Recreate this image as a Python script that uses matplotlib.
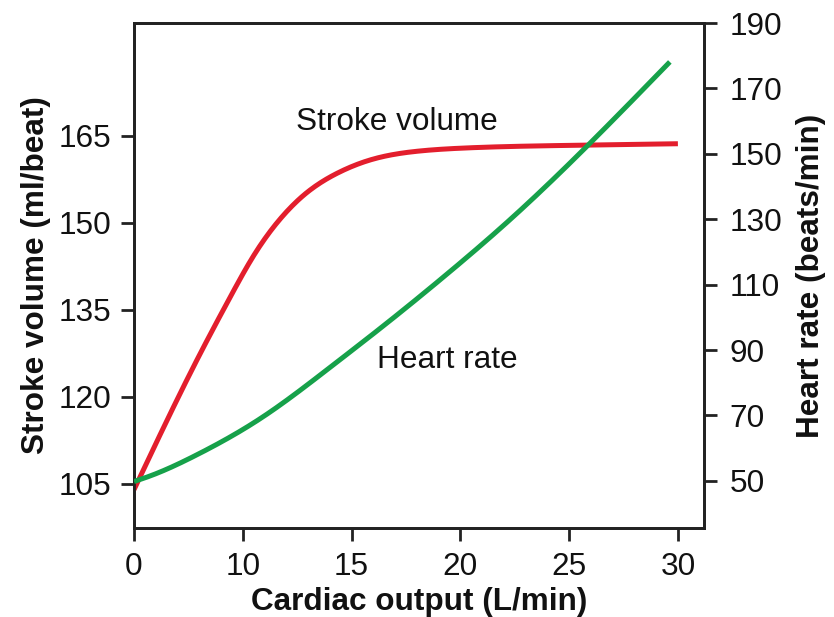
import numpy as np
import matplotlib
matplotlib.use("Agg")
import matplotlib.pyplot as plt

plt.rcParams['font.family'] = ['Liberation Sans', 'DejaVu Sans']

# Data
sv_x = [0, 5.8, 8.82, 10.48, 11.71, 12.95, 14.33, 15.85, 18.0, 20.12, 24.7, 30.0]
sv_y = [104.0, 126.4, 137.1, 144.2, 150.6, 155.2, 158.5, 160.8, 162.3, 162.85, 163.3, 163.6]

hr_x = [0, 1.47, 5.79, 10.93, 14.01, 16.31, 19.38, 22.42, 25.50, 29.63]
hr_y = [49.8, 51.5, 58.0, 69.6, 84.7, 96.6, 113.2, 130.7, 150.2, 178.1]

x_ticks = [0, 10, 15, 20, 25, 30]
sv_ticks = [105, 120, 135, 150, 165]
hr_ticks = [50, 70, 90, 110, 130, 150, 170, 190]


def fwd(x):
    x = np.asarray(x, float)
    return np.where(x <= 10, x / 2.0, x - 5.0)


def inv(y):
    y = np.asarray(y, float)
    return np.where(y <= 5, y * 2.0, y + 5.0)


def cubic_spline(xs, ys, n=400):
    xs = np.asarray(xs, float)
    ys = np.asarray(ys, float)
    k = len(xs)
    h = np.diff(xs)
    A = np.zeros((k, k))
    b = np.zeros(k)
    A[0, 0] = 1
    A[-1, -1] = 1
    for i in range(1, k - 1):
        A[i, i - 1] = h[i - 1]
        A[i, i] = 2 * (h[i - 1] + h[i])
        A[i, i + 1] = h[i]
        b[i] = 3 * ((ys[i + 1] - ys[i]) / h[i] - (ys[i] - ys[i - 1]) / h[i - 1])
    c = np.linalg.solve(A, b)
    bb = (ys[1:] - ys[:-1]) / h - h * (2 * c[:-1] + c[1:]) / 3
    dd = (c[1:] - c[:-1]) / (3 * h)
    xx = np.linspace(xs[0], xs[-1], n)
    idx = np.clip(np.searchsorted(xs, xx) - 1, 0, k - 2)
    t = xx - xs[idx]
    yy = ys[idx] + bb[idx] * t + c[idx] * t**2 + dd[idx] * t**3
    return xx, yy


def smooth_curve(xs, ys):
    # interpolate in the axis' display coordinate so the curve is smooth on screen
    u, yy = cubic_spline(fwd(xs), ys)
    return inv(u), yy


W, H = 834, 617
fig = plt.figure(figsize=(W / 100, H / 100), dpi=100)
ax = fig.add_axes([134 / W, (H - 528) / H, (704 - 134) / W, (528 - 23) / H])
ax.set_xscale('function', functions=(fwd, inv))
ax.set_xlim(0, 31.2)
ax.set_ylim(97.4, 184.4)

ax2 = ax.twinx()
ax2.set_ylim(35.6, 190)

red = '#e31e2d'
green = '#16a14a'
txt = '#111111'
FS = 22.7

sx, sy = smooth_curve(sv_x, sv_y)
ax.plot(sx, sy, color=red, lw=3.6, solid_capstyle='butt', zorder=3)
hx, hy = smooth_curve(hr_x, hr_y)
ax2.plot(hx, hy, color=green, lw=3.6, solid_capstyle='butt', zorder=3)

for a in (ax, ax2):
    for s in a.spines.values():
        s.set_linewidth(2.0)
        s.set_color('#222222')

ax.set_xticks(x_ticks)
ax.set_xticklabels([str(v) for v in x_ticks])
ax.set_yticks(sv_ticks)
ax.set_yticklabels([str(v) for v in sv_ticks])
ax2.set_yticks(hr_ticks)
ax2.set_yticklabels([str(v) for v in hr_ticks])
ax.minorticks_off()
ax2.minorticks_off()

ax.tick_params(axis='both', direction='out', length=9.5, width=2, color='#222222',
               labelsize=FS, labelcolor=txt)
ax.tick_params(axis='x', pad=8)
ax.tick_params(axis='y', pad=7)
ax2.tick_params(axis='y', direction='out', length=9.5, width=2, color='#222222',
                labelsize=FS, labelcolor=txt, pad=9)

ax.set_xlabel('Cardiac output (L/min)', fontsize=FS, fontweight='bold', color=txt, labelpad=3.5)
ax.set_ylabel('Stroke volume (ml/beat)', fontsize=FS, fontweight='bold', color=txt, labelpad=5)
ax2.set_ylabel('Heart rate (beats/min)', fontsize=FS, fontweight='bold', color=txt, labelpad=10)

ax.text(12.44, 167.4, 'Stroke volume', fontsize=FS, color=txt, ha='left', va='center')
ax.text(16.17, 126.4, 'Heart rate', fontsize=FS, color=txt, ha='left', va='center')

fig.savefig('out.png', dpi=100)
